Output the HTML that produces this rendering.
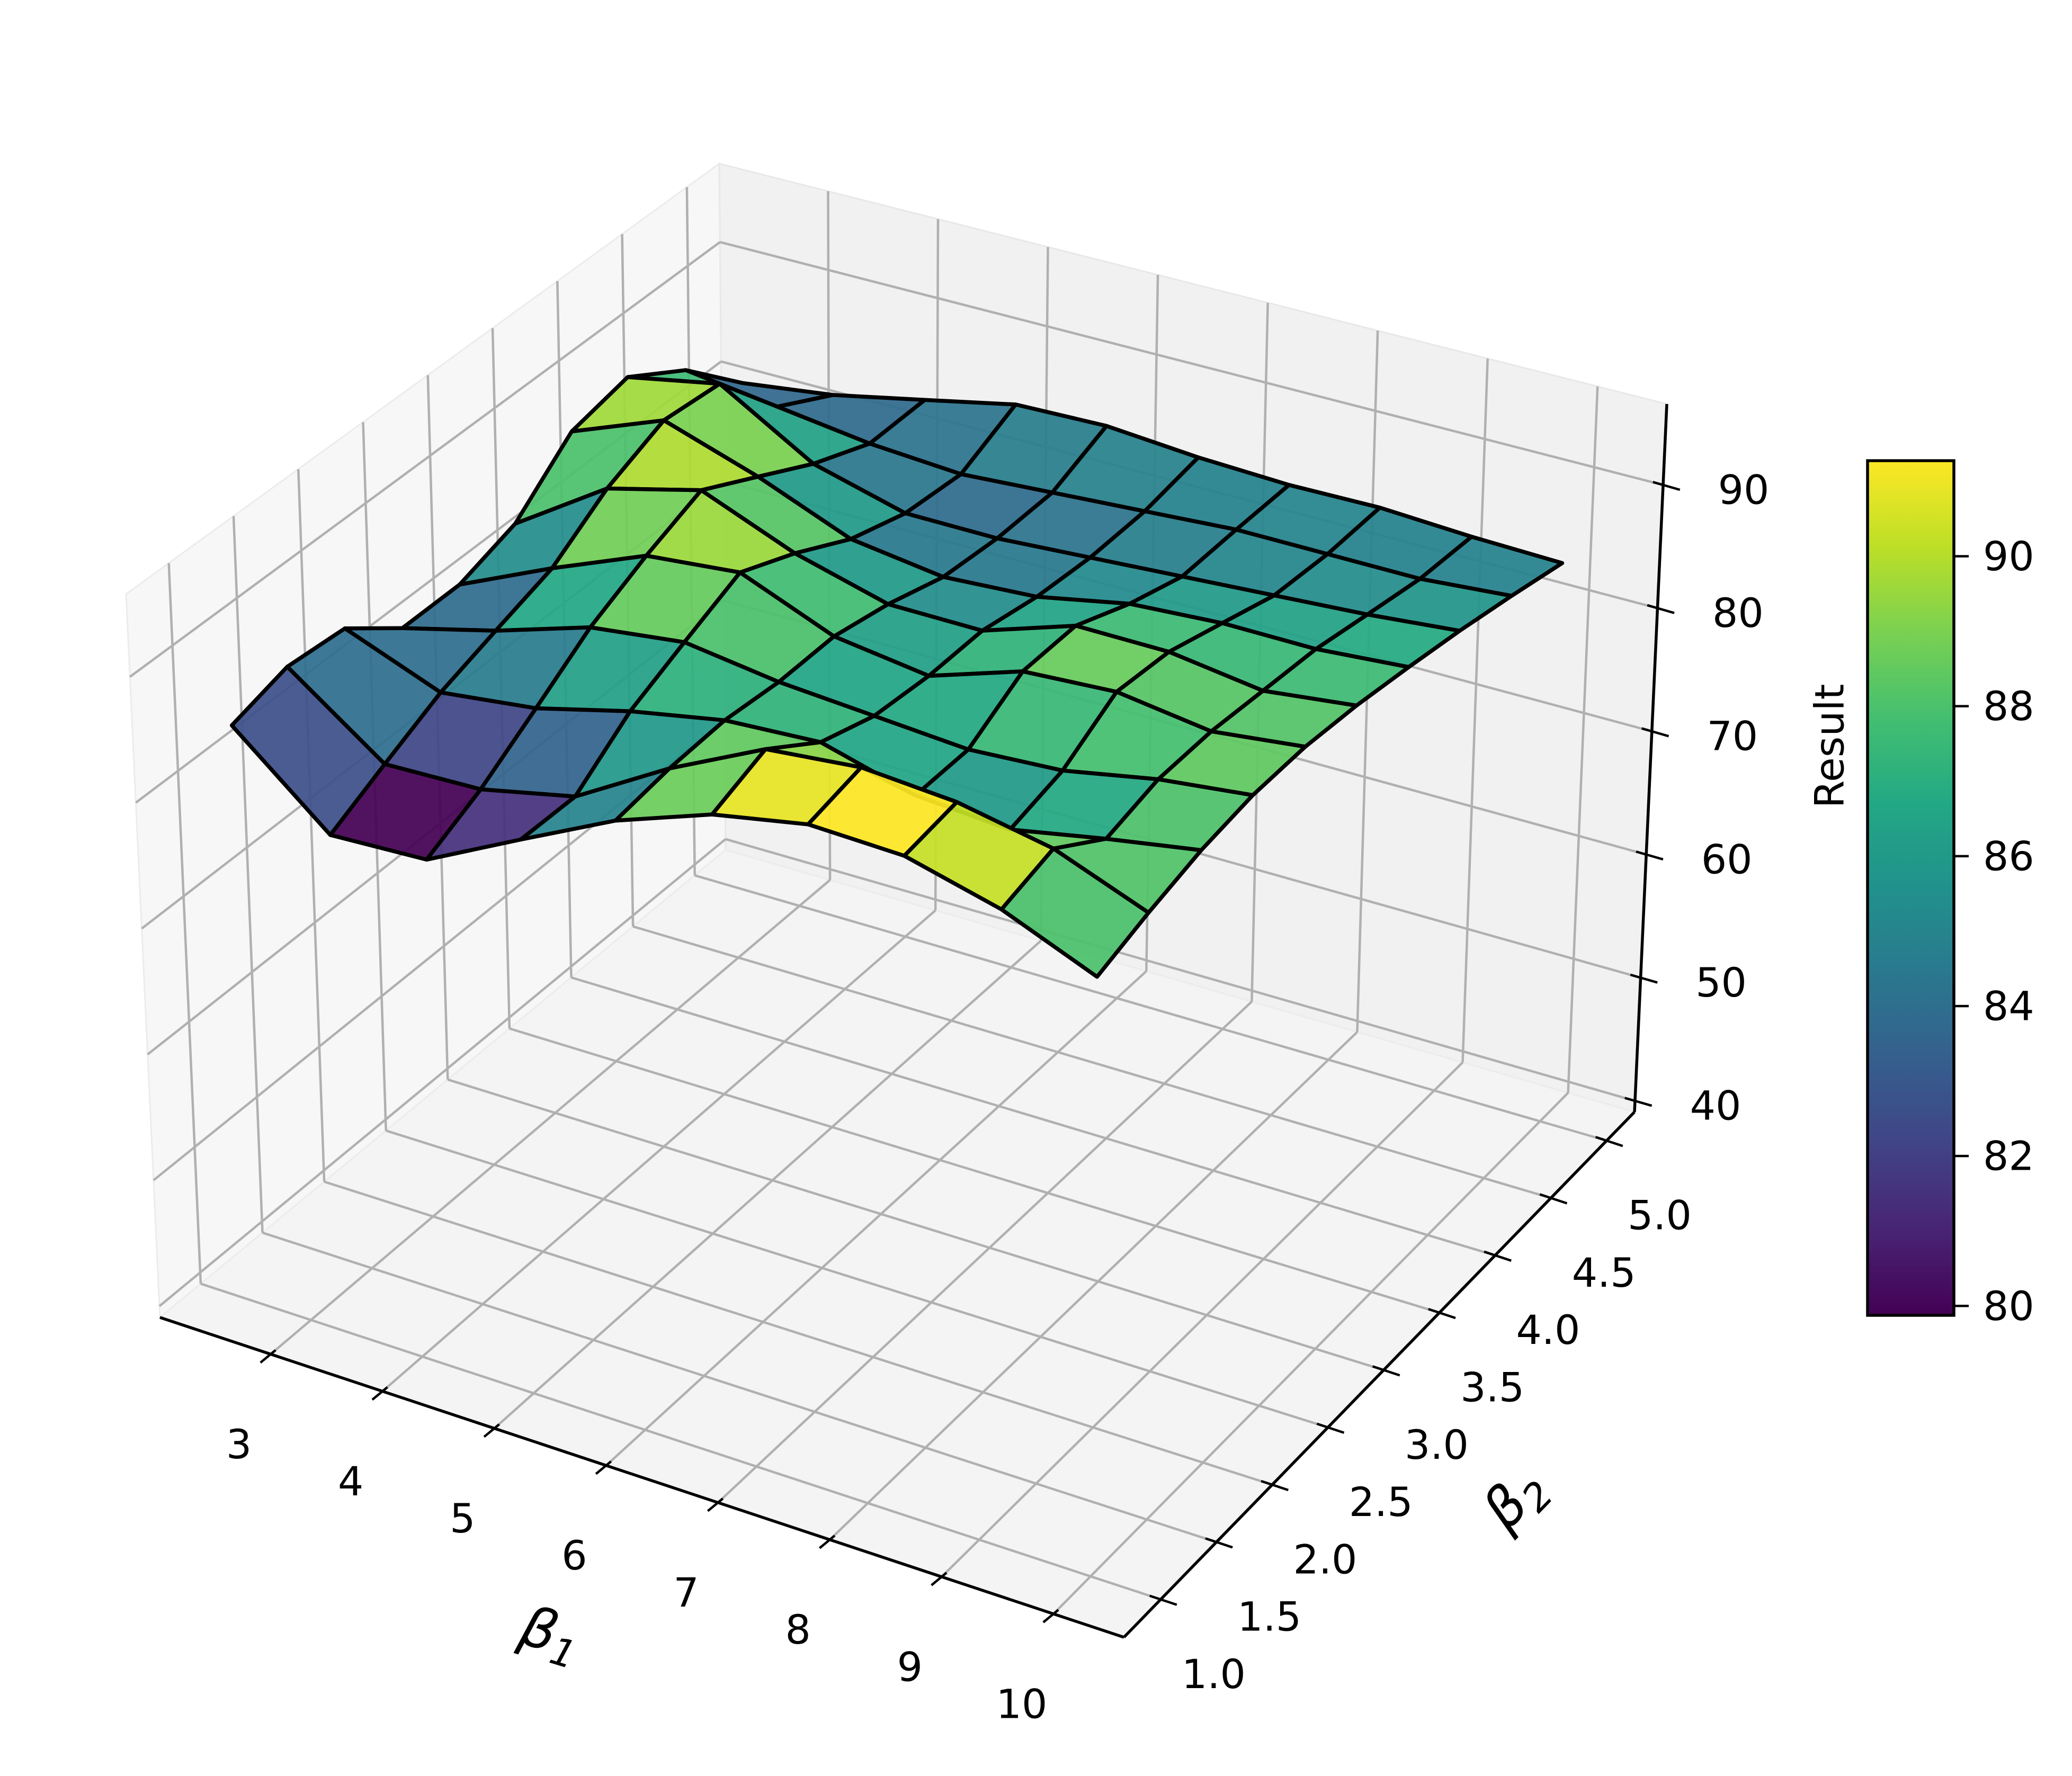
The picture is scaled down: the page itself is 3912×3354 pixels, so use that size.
<!DOCTYPE html>
<html><head><meta charset="utf-8"><title>Surface plot</title>
<style>html,body{margin:0;padding:0;background:#fff}svg{display:block}</style></head>
<body>
<svg id="chart" xmlns="http://www.w3.org/2000/svg" width="3912" height="3354" viewBox="0 0 3912 3354" font-family="DejaVu Sans, Liberation Sans, sans-serif">
<defs>
<linearGradient id="viridis" x1="0" y1="1" x2="0" y2="0">
<stop offset="0" stop-color="#440154"/><stop offset="0.1" stop-color="#482475"/><stop offset="0.2" stop-color="#414487"/><stop offset="0.3" stop-color="#355f8d"/><stop offset="0.4" stop-color="#2a788e"/><stop offset="0.5" stop-color="#21918c"/><stop offset="0.6" stop-color="#22a884"/><stop offset="0.7" stop-color="#44bf70"/><stop offset="0.8" stop-color="#7ad151"/><stop offset="0.9" stop-color="#bddf26"/><stop offset="1" stop-color="#fde725"/>
</linearGradient>
</defs>
<g id="panes"></g>
<g id="grid"></g>
<g id="surface"></g>
<g id="axes"></g>
<g id="labels"></g>
<g id="cbar"></g>
</svg>
<script>
// ---- data ----
const beta1 = [2.5, 3.33, 4.17, 5.0, 5.83, 6.67, 7.5, 8.33, 9.17, 10.0];
const beta2 = [1.0, 1.44, 1.89, 2.33, 2.78, 3.22, 3.67, 4.11, 4.56, 5.0];
const row0 = [85.0, 78.6, 79.0, 82.9, 86.7, 89.5, 91.0, 90.8, 88.9, 85.9];
const row1 = [86.3, 80.8, 81.1, 82.8, 87.3, 91.1, 91.9, 91.4, 90.0, 87.2];
const row2 = [85.9, 83.0, 84.0, 86.0, 87.5, 88.0, 86.0, 85.5, 87.0, 88.3];
const row3 = [82.5, 84.5, 87.0, 88.0, 87.0, 86.5, 86.0, 86.5, 88.0, 88.9];
const row4 = [82.5, 86.0, 89.2, 90.0, 87.0, 86.0, 88.5, 89.0, 88.0, 88.9];
const row5 = [84.0, 89.0, 91.0, 88.0, 86.0, 86.0, 88.5, 88.5, 87.5, 88.4];
const row6 = [88.0, 91.0, 88.5, 85.5, 84.5, 85.0, 86.5, 87.0, 87.0, 87.6];
const row7 = [89.0, 90.5, 86.0, 84.0, 84.0, 84.5, 85.0, 85.5, 86.0, 86.7];
const row8 = [86.0, 85.0, 84.0, 83.5, 84.0, 84.5, 85.0, 85.0, 85.0, 85.6];
const row9 = [81.4, 82.4, 84.0, 85.6, 85.8, 85.2, 84.9, 85.0, 84.6, 84.4];
const resultRows = [row0,row1,row2,row3,row4,row5,row6,row7,row8,row9];
const xTicks = [3,4,5,6,7,8,9,10];
const yTicks = [1.0,1.5,2.0,2.5,3.0,3.5,4.0,4.5,5.0];
const zTicks = [40,50,60,70,80,90];
const cbTicks = [80,82,84,86,88,90];

// ---- axis / projection ----
const XMIN=2.01, XMAX=10.63, YMIN=0.67, YMAX=5.25, ZMIN=39.1, ZMAX=96.57;
const A=[302,2488], B=[2122,3092], C=[3086,2100], D=[1370,1605];
const A2=[238,1122], B2=[2140,1695], C2=[3147,763], D2=[1358,309];
function bil(P,Q,R,S,u,v){
  return [P[0]*(1-u)*(1-v)+Q[0]*u*(1-v)+R[0]*u*v+S[0]*(1-u)*v,
          P[1]*(1-u)*(1-v)+Q[1]*u*(1-v)+R[1]*u*v+S[1]*(1-u)*v];
}
function proj(x,y,z){
  const u=(x-XMIN)/(XMAX-XMIN), v=(y-YMIN)/(YMAX-YMIN), w=(z-ZMIN)/(ZMAX-ZMIN);
  const f=bil(A,B,C,D,u,v), t=bil(A2,B2,C2,D2,u,v);
  return [f[0]+w*(t[0]-f[0]), f[1]+w*(t[1]-f[1])];
}
function depth(x,y,z){
  const u=(x-XMIN)/(XMAX-XMIN), v=(y-YMIN)/(YMAX-YMIN), w=(z-ZMIN)/(ZMAX-ZMIN);
  return 0.433*u-0.75*v+0.375*w;
}
const NS='http://www.w3.org/2000/svg';
function mk(tag,attrs,parent){const e=document.createElementNS(NS,tag);for(const k in attrs)e.setAttribute(k,attrs[k]);parent.appendChild(e);return e;}
function pts(arr){return arr.map(p=>p[0].toFixed(1)+','+p[1].toFixed(1)).join(' ');}
const stops=['#440154','#482475','#414487','#355f8d','#2a788e','#21918c','#22a884','#44bf70','#7ad151','#bddf26','#fde725'];
function hex(h){return [parseInt(h.slice(1,3),16),parseInt(h.slice(3,5),16),parseInt(h.slice(5,7),16)];}
function viridis(t){t=Math.max(0,Math.min(1,t));const s=t*10,i=Math.min(9,Math.floor(s)),f=s-i;const a=hex(stops[i]),b=hex(stops[i+1]);
  return 'rgb('+a.map((c,k)=>Math.round(c+(b[k]-c)*f)).join(',')+')';}

const gP=document.getElementById('panes'), gG=document.getElementById('grid'), gS=document.getElementById('surface'),
      gA=document.getElementById('axes'), gL=document.getElementById('labels'), gC=document.getElementById('cbar');

// panes
let p;
p=mk('polygon',{points:pts([proj(XMIN,YMIN,ZMIN),proj(XMIN,YMAX,ZMIN),proj(XMIN,YMAX,ZMAX),proj(XMIN,YMIN,ZMAX)]),fill:'#f7f7f7',stroke:'#ececec','stroke-width':3},gP);


p=mk('polygon',{points:pts([proj(XMIN,YMAX,ZMIN),proj(XMAX,YMAX,ZMIN),proj(XMAX,YMAX,ZMAX),proj(XMIN,YMAX,ZMAX)]),fill:'#f1f1f1',stroke:'#e8e8e8','stroke-width':3},gP);


p=mk('polygon',{points:pts([proj(XMIN,YMIN,ZMIN),proj(XMAX,YMIN,ZMIN),proj(XMAX,YMAX,ZMIN),proj(XMIN,YMAX,ZMIN)]),fill:'#f4f4f4',stroke:'#ececec','stroke-width':3},gP);



// gridlines
function gline(a,b,name){const l=mk('line',{x1:a[0],y1:a[1],x2:b[0],y2:b[1],stroke:'#b0b0b0','stroke-width':4.5},gG);
  
  }
xTicks.forEach(x=>{gline(proj(x,YMIN,ZMIN),proj(x,YMAX,ZMIN),'x-gridline-floor');gline(proj(x,YMAX,ZMIN),proj(x,YMAX,ZMAX),'x-gridline-back');});
yTicks.forEach(y=>{gline(proj(XMIN,y,ZMIN),proj(XMAX,y,ZMIN),'y-gridline-floor');gline(proj(XMIN,y,ZMIN),proj(XMIN,y,ZMAX),'y-gridline-left');});
zTicks.forEach(z=>{gline(proj(XMIN,YMIN,z),proj(XMIN,YMAX,z),'z-gridline-left');gline(proj(XMIN,YMAX,z),proj(XMAX,YMAX,z),'z-gridline-back');});

// surface faces
const faces=[];
for(let j=0;j<beta2.length-1;j++){for(let i=0;i<beta1.length-1;i++){
  const c=[[i,j],[i+1,j],[i+1,j+1],[i,j+1]];
  const zs=c.map(([a,b])=>resultRows[b][a]);
  const avg=zs.reduce((s,v)=>s+v,0)/4;
  const xs=(beta1[i]+beta1[i+1])/2, ys=(beta2[j]+beta2[j+1])/2;
  faces.push({c,avg,i,j,d:depth(xs,ys,avg)});
}}
const vmin=Math.min(...faces.map(f=>f.avg)), vmax=Math.max(...faces.map(f=>f.avg));
faces.sort((a,b)=>a.d-b.d);
faces.forEach(f=>{
  const P=f.c.map(([a,b])=>proj(beta1[a],beta2[b],resultRows[b][a]));
  const el=mk('polygon',{points:pts(P),fill:viridis((f.avg-vmin)/(vmax-vmin)),'fill-opacity':0.93,stroke:'#000','stroke-width':7.5,'stroke-linejoin':'round'},gS);
  
  
});

// axis lines
function aline(a,b,name,w){const l=mk('line',{x1:a[0],y1:a[1],x2:b[0],y2:b[1],stroke:'#000','stroke-width':w||5.5},gA);
  
  return l;}
aline(proj(XMIN,YMIN,ZMIN),proj(XMAX,YMIN,ZMIN),'x-axis-line');
aline(proj(XMAX,YMIN,ZMIN),proj(XMAX,YMAX,ZMIN),'y-axis-line');
aline(proj(XMAX,YMAX,ZMIN),proj(XMAX,YMAX,ZMAX),'z-axis-line');
function unit(a,b){const dx=b[0]-a[0],dy=b[1]-a[1],L=Math.hypot(dx,dy);return [dx/L,dy/L];}
function txt(x,y,s,name,opts){const t=mk('text',Object.assign({x:x,y:y,'font-size':76,'text-anchor':'middle','dominant-baseline':'central',fill:'#000'},opts||{}),gL);
  t.textContent=s;
  
  return t;}
// x ticks
const dY=unit(proj(XMIN,YMIN,ZMIN),proj(XMIN,YMAX,ZMIN));
xTicks.forEach(x=>{const c=proj(x,YMIN,ZMIN);
  aline([c[0]-25*dY[0],c[1]-25*dY[1]],[c[0]+12*dY[0],c[1]+12*dY[1]],'x-tick',4.5);
  txt(c[0]-60,c[1]+170,String(x),'x-tick-label');});
// y ticks
const dX=unit(proj(XMIN,YMIN,ZMIN),proj(XMAX,YMIN,ZMIN));
yTicks.forEach(y=>{const c=proj(XMAX,y,ZMIN);
  aline([c[0]-22*dX[0],c[1]-22*dX[1]],[c[0]+32*dX[0],c[1]+32*dX[1]],'y-tick',4.5);
  txt(c[0]+100,c[1]+141,y.toFixed(1),'y-tick-label');});
// z ticks
const dXb=unit(proj(XMIN,YMAX,ZMIN),proj(XMAX,YMAX,ZMIN));
zTicks.forEach(z=>{const c=proj(XMAX,YMAX,z);
  aline([c[0]-20*dXb[0],c[1]-20*dXb[1]],[c[0]+33*dXb[0],c[1]+33*dXb[1]],'z-tick',4.5);
  txt(c[0]+152,c[1]+9,String(z),'z-tick-label');});
// axis titles
const t1=mk('text',{x:1040,y:3083,'font-size':104,'font-style':'italic','text-anchor':'middle','dominant-baseline':'central',transform:'rotate(17 1040 3083)'},gL);
t1.innerHTML='β<tspan font-size="72" dy="30">1</tspan>';


const t2=mk('text',{x:2858,y:2829,'font-size':104,'font-style':'italic','text-anchor':'middle','dominant-baseline':'central',transform:'rotate(-46 2858 2829)'},gL);
t2.innerHTML='β<tspan font-size="72" dy="30">2</tspan>';



// colorbar
const CB={x:3526,y:870,w:163,h:1614};
const r=mk('rect',{x:CB.x,y:CB.y,width:CB.w,height:CB.h,fill:'url(#viridis)',stroke:'#000','stroke-width':5.5},gC);


function cbY(v){return CB.y+CB.h-(v-vmin)/(vmax-vmin)*CB.h;}
cbTicks.forEach(v=>{const y=cbY(v);
  const l=mk('line',{x1:CB.x+CB.w,y1:y,x2:CB.x+CB.w+28,y2:y,stroke:'#000','stroke-width':4.5},gC);
  
  
  const t=mk('text',{x:CB.x+CB.w+55,y:y,'font-size':76,'dominant-baseline':'central',fill:'#000'},gC);
  t.textContent=String(v);
  
  });
const cl=mk('text',{x:3454,y:1409,'font-size':76,'text-anchor':'middle','dominant-baseline':'central',transform:'rotate(-90 3454 1409)'},gC);
cl.textContent='Result';


</script>
</body></html>
